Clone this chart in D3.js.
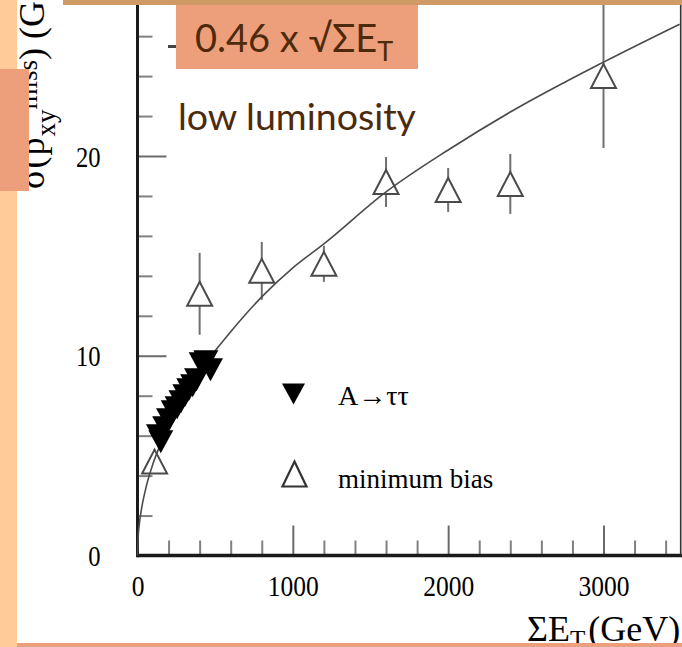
<!DOCTYPE html>
<html><head><meta charset="utf-8">
<script src="https://cdn.jsdelivr.net/npm/d3@7"></script>
<style>html,body{margin:0;padding:0;background:#fff;} svg{display:block;}</style>
</head><body><div id="chart"></div>
<script>
// ---- data ----
const xMajorTicks = [0, 1000, 2000, 3000];
const xMinorTicks = [200, 400, 600, 800, 1200, 1400, 1600, 1800, 2200, 2400, 2600, 2800, 3200, 3400];
const yMajorTicks = [0, 10, 20];
const yMinorTicks = [2, 4, 6, 8, 12, 14, 16, 18, 22, 24, 26];

// A -> tau tau (filled, downward triangles)
const tauE = [135, 150, 175, 200, 230, 255, 280, 305, 330, 355, 380, 410, 440, 470];
const tauS = [6.0, 5.7, 6.4, 6.8, 7.2, 7.4, 7.7, 8.0, 8.3, 8.5, 8.8, 9.6, 9.7, 9.3];

// minimum bias (open triangles with error bars)
const mbE   = [110, 400, 800, 1200, 1600, 2000, 2400, 3000];
const mbS   = [4.7, 13.1, 14.25, 14.6, 18.7, 18.3, 18.6, 24.0];
const mbErr = [0.6, 2.05, 1.45, 0.9, 1.25, 1.1, 1.5, 3.6];

// fitted curve as drawn
const fitE = [0, 4, 10, 25, 50, 100, 150, 200, 300, 400, 600, 800, 1000, 1200, 1600, 2000, 2400, 3000, 3490];
const fitS = [0, 0.9, 1.45, 2.3, 3.25, 4.6, 5.6, 6.5, 7.95, 9.2, 11.2, 12.95, 14.4, 15.6, 18.2, 20.3, 22.2, 24.7, 26.6];

const legendLabels = ["A\u2192\u03c4\u03c4", "minimum bias"];

// ---- drawing ----
const W = 682, H = 647;
const svg = d3.select("#chart").append("svg").attr("width", W).attr("height", H);

const x = d3.scaleLinear().domain([0, 3000]).range([137.5, 603.5]);
const y = d3.scaleLinear().domain([0, 20]).range([555.5, 156]);

const SERIF = "'Liberation Serif','Times New Roman',serif";
const SANS = "Lato, 'Open Sans', sans-serif";
const SALMON = "#ED9F7B";
const BROWN = "#4D2A0C";

svg.append("rect").attr("width", W).attr("height", H).attr("fill", "#fff");

// y-axis title (mostly hidden under box)
const yt = svg.append("text")
  .attr("transform", "translate(44,189) rotate(-90)")
  .attr("font-family", SERIF).attr("font-size", 36).attr("fill", "#000");
yt.append("tspan").attr("letter-spacing", 1).text("\u03c3(p");
yt.append("tspan").attr("font-size", 27).attr("dy", 11).text("xy");
yt.append("tspan").attr("font-size", 27).attr("dy", -18).text("miss");
yt.append("tspan").attr("dy", 7).text(") (GeV)");

// minor ticks
const minorX = d3.axisBottom(x).tickValues(xMinorTicks).tickSize(-15).tickFormat("");
const gmx = svg.append("g").attr("transform", `translate(0,${y(0)})`).call(minorX);
const minorY = d3.axisLeft(y).tickValues(yMinorTicks).tickSize(-15).tickFormat("");
const gmy = svg.append("g").attr("transform", `translate(${x(0)},0)`).call(minorY);
[gmx, gmy].forEach(g => { g.select(".domain").remove(); g.selectAll("line").attr("stroke", "#808080").attr("stroke-width", 2); });

// major ticks + labels
const majorX = d3.axisBottom(x).tickValues(xMajorTicks).tickSize(-30).tickPadding(19).tickFormat(d3.format("d"));
const gx = svg.append("g").attr("transform", `translate(0,${y(0)})`).call(majorX);
const majorY = d3.axisLeft(y).tickValues(yMajorTicks).tickSize(-29).tickPadding(37).tickFormat(d3.format("d"));
const gy = svg.append("g").attr("transform", `translate(${x(0)},0)`).call(majorY);
[gx, gy].forEach(g => {
  g.select(".domain").remove();
  g.selectAll("line").attr("stroke", "#6a6a6a").attr("stroke-width", 2);
  g.selectAll("text").attr("font-family", SERIF).attr("font-size", 30).attr("fill", "#000");
});
gx.selectAll(".tick text").each(function() {
  const t = d3.select(this); const yy = +t.attr("y");
  t.attr("y", null).attr("dy", null).attr("transform", `translate(0,${yy + 21}) scale(0.85,1)`);
});
gy.selectAll(".tick text").each(function() {
  const t = d3.select(this); const xx = +t.attr("x");
  t.attr("x", null).attr("dy", "0.34em").attr("transform", `translate(${xx},0) scale(0.82,1)`);
});

// axis lines and right frame
svg.append("line").attr("x1", x(0)).attr("x2", W).attr("y1", y(0)).attr("y2", y(0)).attr("stroke", "#1a1a1a").attr("stroke-width", 3.5);
svg.append("line").attr("x1", x(0)).attr("x2", x(0)).attr("y1", 0).attr("y2", y(0) + 1.7).attr("stroke", "#1a1a1a").attr("stroke-width", 3);
svg.append("line").attr("x1", 680.7).attr("x2", 680.7).attr("y1", 0).attr("y2", y(0)).attr("stroke", "#333").attr("stroke-width", 1.6);

function tri(cx, cy, w, h, down) {
  if (down) return `M${cx - w/2},${cy - h/2}L${cx + w/2},${cy - h/2}L${cx},${cy + h/2}Z`;
  return `M${cx},${cy - h/2}L${cx + w/2},${cy + h/2}L${cx - w/2},${cy + h/2}Z`;
}

// minimum bias error bars
const mb = mbE.map((e, i) => ({e, s: mbS[i], err: mbErr[i]}));
svg.append("g").selectAll("line").data(mb).join("line")
  .attr("x1", d => x(d.e)).attr("x2", d => x(d.e))
  .attr("y1", d => y(d.s + d.err)).attr("y2", d => y(d.s - d.err))
  .attr("stroke", "#707070").attr("stroke-width", 2);
svg.append("g").selectAll("path").data(mb).join("path")
  .attr("d", d => tri(x(d.e), y(d.s), 25, 24, false))
  .attr("fill", "#fff").attr("stroke", "#4a4a4a").attr("stroke-width", 2);

// fit curve
const fit = fitE.map((e, i) => ({e, s: fitS[i]}));
svg.append("path").datum(fit)
  .attr("d", d3.line().x(d => x(d.e)).y(d => y(d.s)).curve(d3.curveMonotoneX))
  .attr("fill", "none").attr("stroke", "#4a4a4a").attr("stroke-width", 1.6);

// A -> tau tau
const tau = tauE.map((e, i) => ({e, s: tauS[i]}));
svg.append("g").selectAll("path").data(tau).join("path")
  .attr("d", d => tri(x(d.e), y(d.s), 25, 23, true))
  .attr("fill", "#000");

// legend
svg.append("path").attr("d", tri(293.5, 394, 23, 21, true)).attr("fill", "#000");
svg.append("path").attr("d", tri(294.5, 474, 24, 25, false)).attr("fill", "#fff").attr("stroke", "#333").attr("stroke-width", 2.2);
svg.append("text").attr("x", 338).attr("y", 405).attr("font-family", SERIF).attr("font-size", 28).text(legendLabels[0]);
svg.append("text").attr("x", 338).attr("y", 488).attr("font-family", SERIF).attr("font-size", 27).text(legendLabels[1]);

// x-axis title
const xt = svg.append("text").attr("x", 527).attr("y", 641).attr("font-family", SERIF).attr("font-size", 36).attr("fill", "#000");
xt.append("tspan").text("\u03a3E");
xt.append("tspan").attr("font-size", 25).attr("dy", 7).text("T");
xt.append("tspan").attr("dy", -7).attr("dx", 3).text("(GeV)");

// slide decorations
svg.append("rect").attr("x", 0).attr("y", 0).attr("width", 17).attr("height", H).attr("fill", "#FFCC99");
svg.append("rect").attr("x", 63).attr("y", 0).attr("width", W - 63).attr("height", 5).attr("fill", "#CF9A66");
svg.append("rect").attr("x", 17).attr("y", 643).attr("width", W - 17).attr("height", 4).attr("fill", SALMON);
svg.append("rect").attr("x", 0).attr("y", 69).attr("width", 29).attr("height", 122).attr("fill", SALMON);
svg.append("rect").attr("x", 168).attr("y", 45).attr("width", 8).attr("height", 3).attr("fill", "#444");

// formula box
svg.append("rect").attr("x", 176).attr("y", 5).attr("width", 242).attr("height", 64).attr("fill", SALMON);
const ft = svg.append("text").attr("x", 195).attr("y", 52).attr("font-family", SANS).attr("font-size", 38).attr("fill", BROWN);
ft.append("tspan").text("0.46 x \u221a\u03a3E");
ft.append("tspan").attr("font-size", 27).attr("dy", 9).text("T");

svg.append("text").attr("x", 178).attr("y", 130).attr("font-family", SANS).attr("font-size", 37.5).attr("fill", BROWN).text("low luminosity");
</script></body></html>
